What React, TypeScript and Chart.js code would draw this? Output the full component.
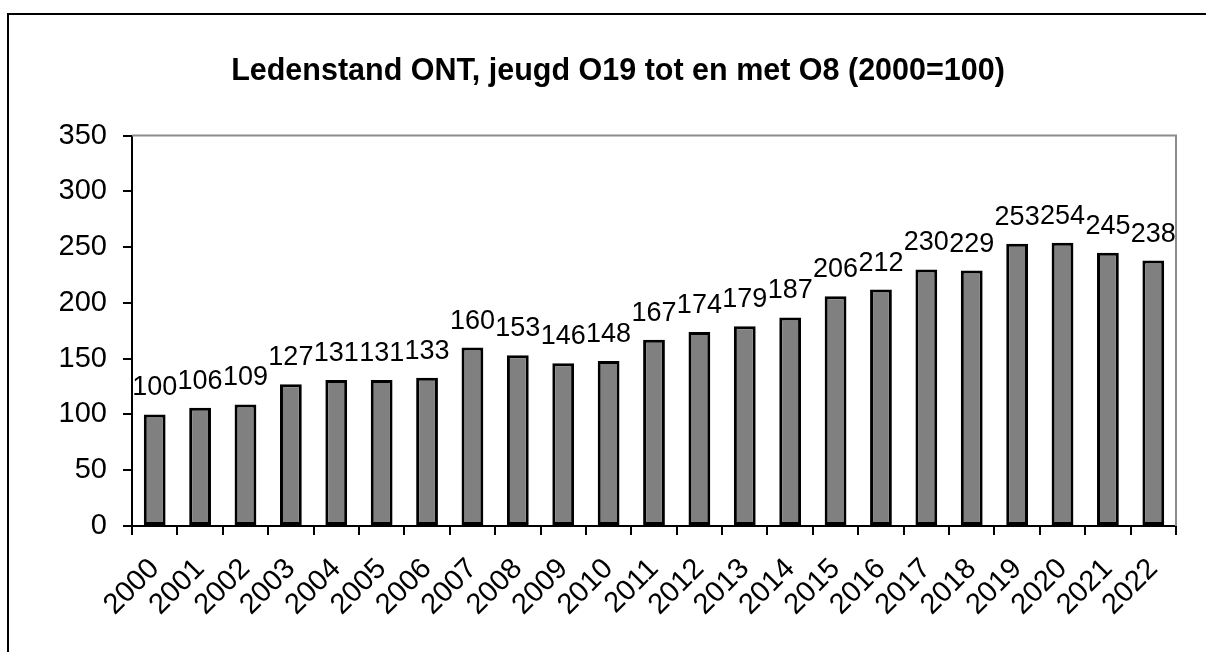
import React, { useEffect, useRef } from "react";
import { Chart, registerables } from "chart.js";

Chart.register(...registerables);

const TITLE = "Ledenstand ONT, jeugd O19 tot en met O8 (2000=100)";
const YEARS = [
  "2000", "2001", "2002", "2003", "2004", "2005", "2006", "2007", "2008", "2009", "2010", "2011",
  "2012", "2013", "2014", "2015", "2016", "2017", "2018", "2019", "2020", "2021", "2022",
];
const VALUES = [100, 106, 109, 127, 131, 131, 133, 160, 153, 146, 148, 167, 174, 179, 187, 206, 212, 230, 229, 253, 254, 245, 238];
const Y_MIN = 0;
const Y_MAX = 350;
const Y_STEP = 50;

const FONT = "'Liberation Sans', Arial, sans-serif";

const dataLabels = {
  id: "dataLabels",
  afterDatasetsDraw(chart: any) {
    const { ctx } = chart;
    const meta = chart.getDatasetMeta(0);
    ctx.save();
    ctx.font = `27px ${FONT}`;
    ctx.fillStyle = "#000";
    ctx.textAlign = "center";
    ctx.textBaseline = "alphabetic";
    meta.data.forEach((bar: any, i: number) => {
      ctx.fillText(String(VALUES[i]), bar.x, bar.y - 19);
    });
    ctx.restore();
  },
};

const frame = {
  id: "frame",
  afterDraw(chart: any) {
    const { ctx, chartArea } = chart;
    ctx.save();
    ctx.strokeStyle = "#8c8c8c";
    ctx.lineWidth = 2;
    ctx.beginPath();
    ctx.moveTo(chartArea.left, chartArea.top);
    ctx.lineTo(chartArea.right, chartArea.top);
    ctx.lineTo(chartArea.right, chartArea.bottom);
    ctx.stroke();
    ctx.restore();
  },
};

export default function App() {
  const ref = useRef<HTMLCanvasElement | null>(null);

  useEffect(() => {
    if (!ref.current) return;
    const chart = new Chart(ref.current, {
      type: "bar",
      data: {
        labels: YEARS,
        datasets: [
          {
            data: VALUES,
            backgroundColor: "#808080",
            borderColor: "#000",
            borderWidth: 3,
            borderSkipped: false,
            barPercentage: 0.48,
            categoryPercentage: 1,
          },
        ],
      },
      options: {
        animation: false,
        responsive: false,
        maintainAspectRatio: false,
        layout: { padding: { left: 51, right: 3, top: 0, bottom: 0 } },
        plugins: {
          legend: { display: false },
          tooltip: { enabled: false },
          title: {
            display: true,
            text: TITLE,
            color: "#000",
            font: { family: FONT, size: 30.5, weight: "bold" },
            padding: { top: 38, bottom: 46 },
          },
        },
        scales: {
          x: {
            offset: true,
            grid: {
              offset: true,
              drawOnChartArea: false,
              drawTicks: true,
              tickLength: 9,
              color: "#000",
              lineWidth: 2,
            },
            border: { display: true, color: "#000", width: 2 },
            ticks: {
              color: "#000",
              font: { family: FONT, size: 29 },
              minRotation: 45,
              maxRotation: 45,
              autoSkip: false,
              padding: 17,
            },
            afterFit(scale: any) {
              scale.height = 126;
              scale.paddingLeft = 0;
              scale.paddingRight = 0;
            },
          },
          y: {
            min: Y_MIN,
            max: Y_MAX,
            grid: {
              drawOnChartArea: false,
              drawTicks: true,
              tickLength: 9,
              color: "#000",
              lineWidth: 2,
            },
            border: { display: true, color: "#000", width: 2 },
            ticks: {
              stepSize: Y_STEP,
              color: "#000",
              font: { family: FONT, size: 29 },
              padding: 16,
            },
            afterFit(scale: any) {
              scale.width = 72;
              scale.paddingTop = 0;
              scale.paddingBottom = 0;
            },
          },
        },
      },
      plugins: [dataLabels, frame],
    });
    return () => chart.destroy();
  }, []);

  return (
    <div
      style={{
        position: "fixed",
        left: 7,
        top: 13,
        width: 1206 - 7,
        height: 652 - 13,
        borderLeft: "2px solid #000",
        borderTop: "2px solid #000",
        boxSizing: "border-box",
        background: "#fff",
      }}
    >
      <canvas ref={ref} width={1170} height={637} style={{ display: "block", width: 1170, height: 637 }} />
    </div>
  );
}
